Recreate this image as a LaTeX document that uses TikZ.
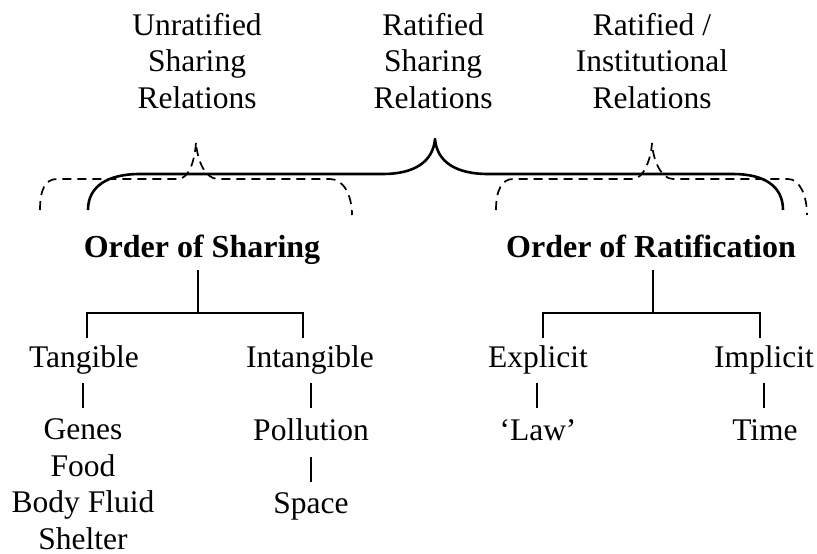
\documentclass[tikz,border=0pt]{standalone}
\usepackage{fontspec}
\setmainfont{Liberation Serif}
\begin{document}
\begin{tikzpicture}[x=1pt,y=-1pt,
  lbl/.style={inner sep=0pt,anchor=base,font=\fontsize{31.5}{36.5}\selectfont},
  head/.style={lbl,font=\fontsize{32}{36.5}\selectfont\bfseries},
  top/.style={lbl,align=center},
  tree/.style={line width=1.8pt},
  bar/.style={line width=1.1pt},
  solidbrace/.style={line width=2.6pt,line join=round},
  dashbrace/.style={line width=1.7pt,dash pattern=on 9pt off 6pt}]
\useasboundingbox (0,0) rectangle (817,554);

% headings above the braces (anchored on the last line's baseline)
\node[top] (unrat) at (197,108) {Unratified\\Sharing\\Relations};
\node[top] (rat)   at (433,108) {Ratified\\Sharing\\Relations};
\node[top] (inst)  at (652,108) {Ratified /\\Institutional\\Relations};

% solid brace spanning both orders
\draw[solidbrace] (88,210) .. controls (88,186) and (108,174) .. (140,174)
  -- (383,174) .. controls (414,174) and (433,162) .. (435,139)
  .. controls (437,162) and (456,174) .. (488,174)
  -- (733,174) .. controls (764,174) and (783,186) .. (783,210);

% dashed brace over the order of sharing
\draw[dashbrace] (40,210) .. controls (40,190) and (45,179) .. (57,179)
  -- (178,179) .. controls (189,179) and (195,160) .. (196,142)
  .. controls (197,160) and (205,179) .. (218,179)
  -- (330,179) .. controls (344,179) and (352,196) .. (352,215);

% dashed brace over the order of ratification
\draw[dashbrace] (496,210) .. controls (496,190) and (502,179) .. (513,179)
  -- (633,179) .. controls (643,179) and (651,160) .. (652,143)
  .. controls (653,160) and (661,179) .. (673,179)
  -- (788,179) .. controls (800,179) and (807,196) .. (807,215);

% the two orders
\node[head] (osh) at (202,257) {Order of Sharing};
\node[head] (ora) at (651,257) {Order of Ratification};

% sharing branch
\node[lbl] (tang)  at (84,367)  {Tangible};
\node[lbl] (intg)  at (310,367) {Intangible};
\node[lbl,align=center] (tlist) at (83,549) {Genes\\Food\\Body Fluid\\Shelter};
\node[lbl] (poll)  at (311,440) {Pollution};
\node[lbl] (space) at (311,513) {Space};

% ratification branch
\node[lbl] (expl) at (538,367) {Explicit};
\node[lbl] (impl) at (764,367) {Implicit};
\node[lbl] (law)  at (538,440) {`Law'};
\node[lbl] (time) at (765,440) {Time};

% joints of the sharing tree
\coordinate (sa) at (198,270);
\coordinate (sb) at (198,313);
\coordinate (sl) at (87,338);
\coordinate (sr) at (303,338);
\draw[tree] (sa) -- (sb);
\draw[tree] (sl) |- (sb) -| (sr);

% joints of the ratification tree
\coordinate (ra) at (653,270);
\coordinate (rb) at (653,313);
\coordinate (rl) at (543,338);
\coordinate (rr) at (760,338);
\draw[tree] (ra) -- (rb);
\draw[tree] (rl) |- (rb) -| (rr);

% thin bars between items
\draw[bar] (83,383) -- (83,408);
\draw[bar] (311,383) -- (311,408);
\draw[bar] (311,457) -- (311,482);
\draw[bar] (537,383) -- (537,408);
\draw[bar] (764,383) -- (764,408);
\end{tikzpicture}
\end{document}
